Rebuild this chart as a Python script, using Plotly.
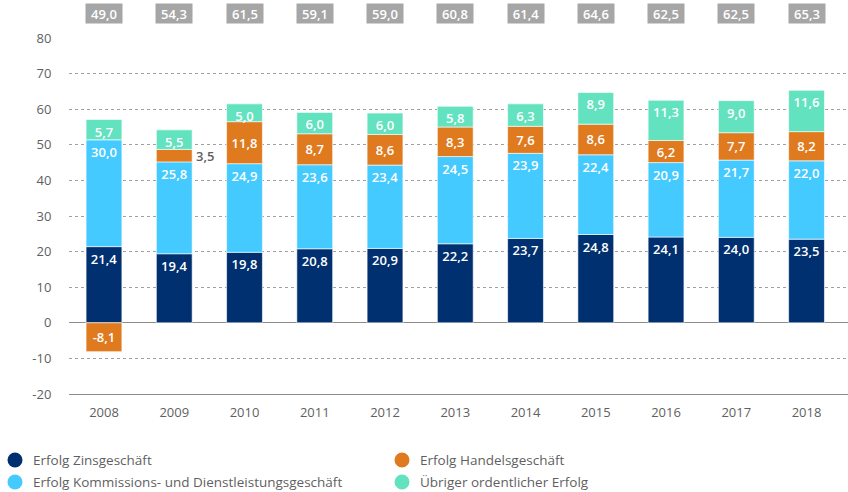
import plotly.graph_objects as go

years = [2008, 2009, 2010, 2011, 2012, 2013, 2014, 2015, 2016, 2017, 2018]
zins = [21.4, 19.4, 19.8, 20.8, 20.9, 22.2, 23.7, 24.8, 24.1, 24.0, 23.5]
kommission = [30.0, 25.8, 24.9, 23.6, 23.4, 24.5, 23.9, 22.4, 20.9, 21.7, 22.0]
handel = [-8.1, 3.5, 11.8, 8.7, 8.6, 8.3, 7.6, 8.6, 6.2, 7.7, 8.2]
uebrig = [5.7, 5.5, 5.0, 6.0, 6.0, 5.8, 6.3, 8.9, 11.3, 9.0, 11.6]
totals = [49.0, 54.3, 61.5, 59.1, 59.0, 60.8, 61.4, 64.6, 62.5, 62.5, 65.3]
y_ticks = [-20, -10, 0, 10, 20, 30, 40, 50, 60, 70, 80]

names = ["Erfolg Zinsgeschäft", "Erfolg Kommissions- und Dienstleistungsgeschäft",
         "Erfolg Handelsgeschäft", "Übriger ordentlicher Erfolg"]
colors = ["#00306f", "#44caff", "#e07a1f", "#63e2bf"]

def fmt(v):
    return f"{v:.1f}".replace(".", ",")

FONT = "Open Sans"
GRAY = "#5f5f5f"

W, H = 848, 492
ML, MT, MB = 69, 38, 98
PW, PH = W - ML, H - MT - MB

def px_x(px):
    return (px - ML) / PW

def px_y(py):
    return (H - MB - py) / PH

fig = go.Figure()
series = [zins, kommission, handel, uebrig]
anchors = ["end", "end", "middle", "end"]
for i, vals in enumerate(series):
    texts = [fmt(v) for v in vals]
    if i == 2:
        texts[1] = ""  # 2009 label shown outside
    fig.add_trace(go.Bar(
        x=years, y=vals, name=names[i],
        marker=dict(color=colors[i], line=dict(color="rgba(255,255,255,0.6)", width=1)),
        width=0.51,
        text=texts, textposition="inside", insidetextanchor=anchors[i],
        textfont=dict(color="white", size=13, family=FONT, weight=600),
        textangle=0, constraintext="none",
        showlegend=False, hoverinfo="skip",
    ))

annotations = []
for yr, t in zip(years, totals):
    annotations.append(dict(
        x=yr, y=1.069, xref="x", yref="paper", text=fmt(t), showarrow=False,
        font=dict(color="white", size=13, family=FONT, weight=600),
        bgcolor="#a6a6a6", width=34, height=17, xanchor="center", yanchor="middle",
    ))
annotations.append(dict(
    x=years[1], y=zins[1] + kommission[1] + handel[1] / 2, xref="x", yref="y",
    text=fmt(handel[1]), showarrow=False, xshift=31,
    font=dict(color=GRAY, size=13, family=FONT, weight=600),
))

# custom legend (2 x 2 grid)
legend_pos = [(15, 460), (15, 482), (402, 460), (402, 482)]  # marker centres in px
shapes = []
for i, (mx, my) in enumerate(legend_pos):
    shapes.append(dict(
        type="circle", xref="paper", yref="paper",
        xsizemode="pixel", ysizemode="pixel",
        xanchor=px_x(mx), yanchor=px_y(my),
        x0=-7.5, x1=7.5, y0=-7.5, y1=7.5,
        fillcolor=colors[i], line=dict(width=0),
    ))
    annotations.append(dict(
        x=px_x(mx + 16), y=px_y(my), xref="paper", yref="paper",
        text=names[i], showarrow=False, xanchor="left", yanchor="middle",
        font=dict(color=GRAY, size=13.5, family=FONT),
    ))

fig.update_layout(
    width=W, height=H,
    margin=dict(l=ML, r=0, t=MT, b=MB),
    barmode="relative",
    plot_bgcolor="white", paper_bgcolor="white",
    font=dict(family=FONT, color=GRAY, size=13),
    annotations=annotations, shapes=shapes,
    showlegend=False,
    xaxis=dict(range=[2007.502, 2018.59], tickvals=years, ticktext=[str(y) for y in years],
               showgrid=False, showline=True, linecolor="#8c8c8c", linewidth=1.2,
               ticks="outside", ticklen=6, tickcolor="rgba(0,0,0,0)",
               tickfont=dict(size=13, color=GRAY), zeroline=False),
    yaxis=dict(range=[-20, 80], tickvals=y_ticks, ticktext=[str(v) for v in y_ticks],
               showgrid=True, gridcolor="#a0a0a0", griddash="dot", gridwidth=1,
               zeroline=True, zerolinecolor="#8c8c8c", zerolinewidth=1.2,
               ticks="outside", ticklen=14, tickcolor="rgba(0,0,0,0)",
               tickfont=dict(size=13, color=GRAY)),
)

fig.write_html("out.html", config={"displayModeBar": False},
               post_script="document.body.style.margin='0';document.body.style.overflow='hidden';")
